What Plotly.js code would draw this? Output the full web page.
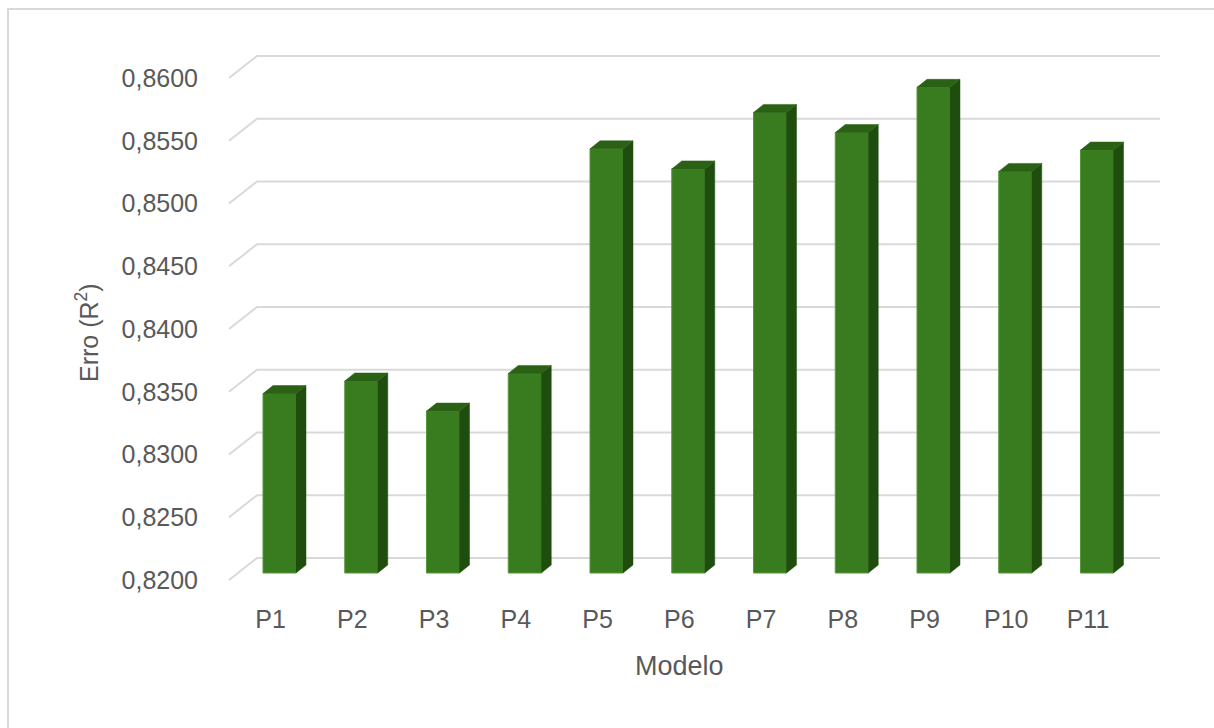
<!DOCTYPE html>
<html>
<head>
<meta charset="utf-8">
<script src="https://cdn.plot.ly/plotly-3.0.1.min.js"></script>
<style>
  html, body { margin: 0; padding: 0; background: #ffffff; }
  #chart { width: 1214px; height: 728px; }
</style>
</head>
<body>
<div id="chart"></div>
<script>
// Model labels and R² scores
const modelos = ['P1', 'P2', 'P3', 'P4', 'P5', 'P6', 'P7', 'P8', 'P9', 'P10', 'P11'];
const r2 = [0.8343, 0.8353, 0.8329, 0.8359, 0.8538, 0.8522, 0.8567, 0.8551, 0.8587, 0.8520, 0.8537];
const yTicks = [0.8200, 0.8250, 0.8300, 0.8350, 0.8400, 0.8450, 0.8500, 0.8550, 0.8600];

// Layout geometry (pixels)
const W = 1214, H = 728;
const L = 199, R = 1159, T = 40, B = 600;
const slotPx = 81.75;        // distance between bar centres
const valPx = 12550;         // pixels per unit of R²
const firstCentre = 279.5;   // x of the first bar's front face centre
const floorPx = 573;         // y of the floor at the bars' front face

const base = yTicks[0];
const xRange = [-(firstCentre - L) / slotPx, (R - firstCentre) / slotPx];
const yRange = [base - (B - floorPx) / valPx, base + (floorPx - T) / valPx];

// pseudo-3D depth of each column
const halfW = 16.5 / slotPx;
const dx = 10 / slotPx;
const dy = 8 / valPx;

const idx = modelos.map((_, i) => i);

// side and top faces of the columns, one closed polygon per bar
const sideX = [], sideY = [], topX = [], topY = [];
idx.forEach(i => {
  const v = r2[i];
  const xr = i + halfW, xl = i - halfW;
  sideX.push(xr, xr + dx, xr + dx, xr, xr, null);
  sideY.push(base, base + dy, v + dy, v, base, null);
  topX.push(xl, xl + dx, xr + dx, xr, xl, null);
  topY.push(v, v + dy, v + dy, v, v, null);
});

const frente = {
  type: 'bar',
  x: idx,
  y: r2.map(v => v - base),
  base: base,
  width: 2 * halfW,
  marker: { color: '#387c1f', line: { color: '#55983a', width: 1 } },
  customdata: r2,
  hovertemplate: '%{customdata:.4f}<extra></extra>',
  showlegend: false
};
const lado = {
  type: 'scatter', mode: 'lines', x: sideX, y: sideY,
  fill: 'toself', fillcolor: '#1f4d0e', line: { color: '#1f4d0e', width: 0.5 },
  hoverinfo: 'skip', showlegend: false
};
const topo = {
  type: 'scatter', mode: 'lines', x: topX, y: topY,
  fill: 'toself', fillcolor: '#2a6114', line: { color: '#2a6114', width: 0.5 },
  hoverinfo: 'skip', showlegend: false
};

// gridlines on the back wall with the slanted run on the side wall
const shapes = yTicks.map(t => ({
  type: 'path', layer: 'below',
  xref: 'paper', xsizemode: 'pixel', xanchor: 0,
  yref: 'y', ysizemode: 'pixel', yanchor: t,
  path: 'M 30,-7 L 58,15 L ' + (R - L + 1) + ',15',
  line: { color: '#d9d9d9', width: 2 }
}));

// outer frame of the chart area (left and top edges)
shapes.push({
  type: 'rect', layer: 'below',
  xref: 'paper', xsizemode: 'pixel', xanchor: 0,
  yref: 'paper', ysizemode: 'pixel', yanchor: 1,
  x0: 8 - L, x1: W - L + 20, y0: -(H - T) - 20, y1: T - 9,
  line: { color: '#d9d9d9', width: 2 }, fillcolor: 'rgba(0,0,0,0)'
});

const font = { family: 'Liberation Sans, Arial, sans-serif', color: '#595959' };

const layout = {
  width: W, height: H,
  margin: { l: L, r: W - R, t: T, b: H - B, pad: 0 },
  paper_bgcolor: '#ffffff', plot_bgcolor: 'rgba(0,0,0,0)',
  separators: ',.',
  font: font,
  bargap: 0,
  xaxis: {
    type: 'linear', range: xRange, fixedrange: true,
    tickvals: idx, ticktext: modelos,
    showgrid: false, zeroline: false, showline: false, ticks: '',
    tickfont: { size: 25, color: '#595959' },
    ticklabelshift: -9, ticklabelstandoff: 2
  },
  yaxis: {
    range: yRange, fixedrange: true,
    tickvals: yTicks, tickformat: '.4f',
    showgrid: false, zeroline: false, showline: false, ticks: '',
    tickfont: { size: 25, color: '#595959' },
    ticklabelshift: 7, ticklabelstandoff: 0
  },
  shapes: shapes,
  annotations: [
    { text: 'Erro (R<sup>2</sup>)', xref: 'paper', yref: 'paper',
      x: (87 - L) / (R - L), y: (B - 333) / (B - T), xanchor: 'center', yanchor: 'middle',
      textangle: -90, showarrow: false, font: { size: 25, color: '#595959' } },
    { text: 'Modelo', xref: 'paper', yref: 'paper',
      x: (679 - L) / (R - L), y: (B - 666) / (B - T), xanchor: 'center', yanchor: 'middle',
      showarrow: false, font: { size: 27, color: '#595959' } }
  ]
};

Plotly.newPlot('chart', [frente, lado, topo], layout, { displayModeBar: false, staticPlot: true });
</script>
</body>
</html>
